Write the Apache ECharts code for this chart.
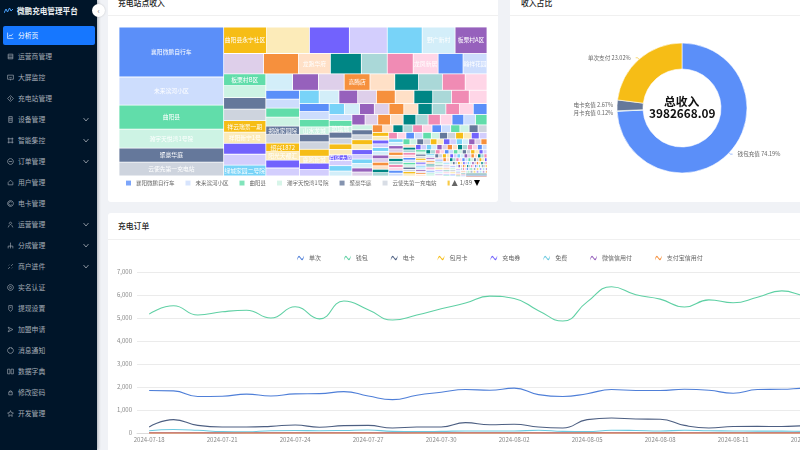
<!DOCTYPE html>
<html>
<head>
<meta charset="utf-8"/>
<title>微鹏充电管理平台</title>
<script src="https://cdn.jsdelivr.net/npm/echarts@6/dist/echarts.min.js"></script>
<style>
html,body{margin:0;padding:0;width:800px;height:450px;overflow:hidden;background:#f0f2f6;font-family:"Noto Sans CJK SC","Noto Sans",sans-serif;}
#side{position:absolute;left:0;top:0;width:97px;height:450px;background:#001529;box-shadow:1px 0 3px rgba(0,21,41,.3);}
#logo{position:absolute;left:17px;top:4px;font-size:7.6px;line-height:13px;font-weight:700;color:#eef2f6;white-space:nowrap;}
#logoMark{position:absolute;left:4px;top:7px;}
#fold{position:absolute;left:92px;top:4px;width:13px;height:13px;border-radius:50%;background:#fff;box-shadow:0 0 2px rgba(0,0,0,.2);color:#666;font-size:7px;line-height:13px;text-align:center;}
.menu{position:absolute;left:3px;width:92px;height:19px;line-height:19px;border-radius:2px;color:#a4acb5;font-size:6.8px;white-space:nowrap;}
.menu.on{background:#1677ff;color:#fff;}
.menu span{position:absolute;left:15px;top:0;}
.menu svg{position:absolute;left:4px;top:6px;width:7px;height:7px;fill:none;stroke:currentColor;stroke-width:1.1;}
.menu svg.arr{left:80px;top:7px;width:6px;height:5px;stroke-width:1.6;}
.card{position:absolute;background:#fff;border-radius:3px;overflow:hidden;}
.card .tt{position:absolute;left:10px;font-size:7.8px;color:#222;font-weight:500;white-space:nowrap;line-height:12px;}
.card .sep{position:absolute;left:0;right:0;height:1px;background:#f0f0f0;}
.chart{position:absolute;}
</style>
</head>
<body>
<div id="side">
    <svg id="logoMark" width="9" height="7" viewBox="0 0 9 7"><path d="M0 6L2 2 3.500 5 5.500 1 7 4 9 2" fill="none" stroke="#4aa3ff" stroke-width="1"/></svg>
    <div id="logo">微鹏充电管理平台</div>
</div>
<div id="fold">‹</div>
<div class="card" style="left:108px;top:-20px;width:390px;height:222px;">
    <div class="tt" style="top:17px;">充电站点收入</div><div class="sep" style="top:35px;"></div>
</div>
<div class="card" style="left:510px;top:-20px;width:343px;height:222px;">
    <div class="tt" style="top:17px;left:11px;">收入占比</div><div class="sep" style="top:35px;"></div>
</div>
<div class="card" style="left:108px;top:213px;width:784px;height:260px;">
    <div class="tt" style="top:7px;left:10px;">充电订单</div><div class="sep" style="top:26px;"></div>
</div>
<div class="chart" id="stationChart" style="left:108px;top:0;width:390px;height:202px;"></div>
<div class="chart" id="shareChart" style="left:510px;top:0;width:343px;height:202px;"></div>
<div class="chart" id="orderChart" style="left:108px;top:213px;width:784px;height:237px;"></div>

<script>
    var menuNames = ['分析页','运营商管理','大屏监控','充电站管理','设备管理','智能集控','订单管理','用户管理','电卡管理','运营管理','分成管理','商户进件','实名认证','提现设置','加盟申请','消息通知','数据字典','修改密码','开发管理'];
    var menuWithArrow = ['设备管理','智能集控','订单管理','运营管理','分成管理','商户进件'];
    var menuIcons = [
        'M1 1V11H11M3 8L5 5 7 7 10 3',
        'M2 2H10V10H2ZM2 5H10M2 8H10',
        'M1 2H11V9H1ZM6 9V11M4 5L6 7 8 5',
        'M6 1L11 6 6 11 1 6ZM6 4V8',
        'M3 1H9V11H3ZM3 4H9M3 7H9',
        'M3 1V11M9 1V11M1 3H11M1 9H11',
        'M6 1A5 5 0 1 1 5.900 1M3 6H9',
        'M6 2L10 6V10H2V6Z',
        'M6 1A5 5 0 1 1 5.900 1M8 4A3 3 0 1 0 8 8',
        'M6 2A2 2 0 1 1 5.900 2M2 11L4 7M10 11L8 7',
        'M6 1V5M2 11V7H10V11M6 5V11',
        'M2 10L5 7M7 5L10 2M3 4L4 3M8 9L9 8',
        'M6 1A5 5 0 1 1 5.900 1M6 4A2 2 0 1 1 5.900 4',
        'M3 1H9V8L6 11 3 8ZM5 4H7',
        'M2 2L10 6 2 10 4 6Z',
        'M6 1A5 5 0 1 1 5.900 1M4 1V3M8 1V3',
        'M1 2H5V10H1ZM7 2H11V10H7Z',
        'M3 5H9V10H3ZM4 5A2 2 0 0 1 8 5',
        'M6 1L7.500 4.500 11 5 8.500 7.500 9 11 6 9 3 11 3.500 7.500 1 5 4.500 4.500Z'
    ];

    // 充电站点收入，每个子数组是矩形树图的一条
    var stationStrips = [
        [5150,2890,2480,1960,1440,1430],
        [1118,1118,1040,988,910,858,832],
        [800,700,640,620,520,520,500,500,480],
        [492,492,480,480,472,472,451,451,451],
        [432,416,416,416,400,384,384,368,352],
        [297,297,297,297,280,280,280,280,264,264],
        [260,260,247,247,247,247,247,247,234,234],
        [232,232,218,218,218,218,203,203,188,188],
        [163,163,158,158,158,152,152,147,147,147,147],
        [132,132,132,132,132,121,121,121,121,121,110],
        [135,130,130,130,130,125,125,120,120,120,118],
        [100,100,100,100,100,100,90,90,90,82,80],
        [76,76,74,72,72,70,70,68,68,68,66,66],
        [62,62,60,60,60,60,58,58,56,56,54,54],
        [55,55,54,54,54,52,52,52,50,50,50,50],
        [48,48,46,46,44,44,44,42,42,40,40,40],
        [39,39,38,38,37,37,36,36,35,35,35,34,34],
        [33,33,32,32,31,30,30,29,29,28,28,27,27],
        [27,27,27,26,26,26,26,26,25,25,25,25,24,24],
        [23,22,21,21,20,20,19,19,18,18,17,17,16,16],
        [19,19,19,18,18,18,18,18,17,17,17,17,16,16],
        [16,16,15,15,15,14,14,14,14,13,13,12,12,12],
        [15,15,15,14,14,14,14,14,14,13,13,13,13,12,12],
        [12,12,11,11,11,10,10,10,9,9,9,8,8,8,7],
        [12,12,12,11,11,11,11,11,10,10,10,10,10,10,9],
        [9,9,8,8,8,7,7,7,7,6,6,6,5,5],
        [8,8,8,8,8,7,7,7,7,7,7,7,7,7,6,6],
        [7,7,6,6,6,5,5,5,5,5,4,4],
        [7,7,7,6,6,6,6,6,6,6,6,5,5,5,5,5],
        [5,5,5,4,4,4,4,4,3,3],
        [5,5,5,5,5,5,4,4,4,4,4,4,4,4,4,4],
        [4,4,4,4,3,3,3,3],
        [4,4,4,4,4,4,4,4,4,4,4,4,4,4],
        [3,3,3,3,3,3,3,3,3,3,3,3,3,3,3,3,3,3,3,3]
    ];
    // 只列出图上读得出的站点名，key 是排名序号
    var stationNames = {
        0:'襄阳微鹏自行车',1:'未来滨河小区',2:'曲阳县',3:'瀚宇天悦湾1号院',4:'聚豪华庭',5:'云使先第一充电站',
        6:'曲阳县永宁社区',11:'野广新村',12:'板栗村A区',15:'龙跑华府',19:'龙凤新居',21:'翰祥花园',
        22:'板栗村B区',26:'祥云瑞景一期',27:'祥阳新宁1号',30:'绿城家园二号院',34:'高腾店',
        44:'郑航家园院',46:'绍兴1872',47:'阳光天都汇',63:'山水龙城',67:'鹿鸣新城',83:'拉塔城',88:'百盛大厦'
    };
    var stationPalette = ['#5B8FF9','#CDDDFD','#61DDAA','#CDF3E4','#65789B','#CED4DE','#F6BD16','#FCEBB9','#7262FD','#D3CEFD','#78D3F8','#D3EEF9','#9661BC','#DECFEA','#F6903D','#FFE0C7','#008685','#AAD8D8','#F08BB4','#FFD6E7'];

    var payNames = ['钱包充值','月卡充值','电卡充值','单次支付'];
    var payShares = [74.19,0.12,2.67,23.02];
    var payColors = ['#5B8FF9','#61DDAA','#65789B','#F6BD16'];
    var totalIncome = '3982668.09';

    var orderDates = ['2024-07-18','2024-07-19','2024-07-20','2024-07-21','2024-07-22','2024-07-23','2024-07-24','2024-07-25','2024-07-26','2024-07-27','2024-07-28','2024-07-29','2024-07-30','2024-07-31','2024-08-01','2024-08-02','2024-08-03','2024-08-04','2024-08-05','2024-08-06','2024-08-07','2024-08-08','2024-08-09','2024-08-10','2024-08-11','2024-08-12','2024-08-13','2024-08-14','2024-08-15','2024-08-16'];
    var orderSingle = [1850,1830,1590,1600,1690,1610,1700,1710,1800,1610,1450,1640,1770,1890,1860,1950,1670,1590,1710,1890,1850,1850,1900,1860,1730,1890,1900,1950,1900,1880];
    var orderWallet = [5170,5530,5130,5270,5340,5000,5490,4960,5740,5360,4910,5130,5400,5650,5950,5850,5320,4870,5700,6360,6010,5820,5480,5790,5660,5900,6180,5960,5900,5800];
    var orderCard = [260,580,330,260,260,290,350,250,320,330,220,260,260,450,360,380,260,220,580,650,610,600,330,220,280,290,280,320,300,310];
    var orderMonth = [6,5,4,6,7,5,4,6,5,3,4,6,5,4,6,5,4,3,5,6,4,5,6,4,5,5,6,4,5,5];
    var orderCoupon = [10,12,8,6,9,11,10,8,12,9,6,8,10,12,9,10,7,6,9,11,10,8,9,10,11,8,9,10,9,8];
    var orderFree = [100,150,120,60,50,100,110,100,110,130,70,60,70,90,90,90,120,70,60,120,110,90,120,100,90,80,80,70,80,90];
    var orderWechat = [2,3,1,2,2,3,2,1,2,3,2,1,2,2,3,2,1,2,3,2,2,1,2,3,2,2,1,2,2,2];
    var orderAlipay = [3,2,3,4,2,3,3,2,4,3,2,3,2,3,4,3,2,2,3,3,4,2,3,2,3,3,2,3,3,2];

    // 左侧菜单
    var side = document.getElementById('side');
    menuNames.forEach(function (name, i) {
        var item = document.createElement('div');
        item.className = i == 0 ? 'menu on' : 'menu';
        item.style.top = (25.5 + i * 21.05) + 'px';
        var html = '<svg viewBox="0 0 12 12"><path d="' + menuIcons[i] + '"/></svg><span>' + name + '</span>';
        if (menuWithArrow.indexOf(name) >= 0) {
            html += '<svg class="arr" viewBox="0 0 12 10"><path d="M1 2L6 8 11 2"/></svg>';
        }
        item.innerHTML = html;
        side.appendChild(item);
    });

    // 把每条按面积切开，得到 0~1 范围内的矩形
    function layoutStrips(strips) {
        var total = 0;
        strips.forEach(function (s) { s.forEach(function (v) { total += v; }); });
        var x0 = 0, y0 = 0, x1 = 1, y1 = 1, cells = [], index = 0;
        strips.forEach(function (strip, n) {
            var sum = 0;
            strip.forEach(function (v) { sum += v; });
            var vertical = n == 0 || (n >= 3 && n % 2 == 1);
            var share = sum / total;
            var pos;
            if (vertical) {
                var w = share / (y1 - y0);
                pos = y0;
                strip.forEach(function (v) {
                    var h = (y1 - y0) * v / sum;
                    cells.push([x0, pos, x0 + w, pos + h, index++]);
                    pos += h;
                });
                x0 += w;
            } else {
                var h2 = share / (x1 - x0);
                pos = x0;
                strip.forEach(function (v) {
                    var w2 = (x1 - x0) * v / sum;
                    cells.push([pos, y0, pos + w2, y0 + h2, index++]);
                    pos += w2;
                });
                y0 += h2;
            }
        });
        return cells;
    }

    function renderCell(params, api) {
        var a = api.coord([api.value(0), api.value(1)]);
        var b = api.coord([api.value(2), api.value(3)]);
        var idx = api.value(4);
        var out = {
            type: 'rect',
            shape: {
                x: a[0] + 0.4,
                y: a[1] + 0.4,
                width: Math.max(b[0] - a[0] - 0.8, 0.3),
                height: Math.max(b[1] - a[1] - 0.8, 0.3)
            },
            style: {fill: stationPalette[idx % stationPalette.length]}
        };
        if (stationNames[idx]) {
            out.textContent = {style: {text: stationNames[idx], fill: '#fff', font: '5.8px "Noto Sans CJK SC"'}};
            out.textConfig = {position: 'inside'};
        }
        return out;
    }

    var legendNames = Object.keys(stationNames).map(function (k) { return stationNames[k]; });
    var stationSeries = [{
        type: 'custom',
        name: '充电站点收入',
        silent: true,
        clip: false,
        renderItem: renderCell,
        data: layoutStrips(stationStrips)
    }];
    Object.keys(stationNames).forEach(function (k) {
        stationSeries.push({
            type: 'scatter',
            name: stationNames[k],
            data: [],
            itemStyle: {color: stationPalette[k % stationPalette.length]}
        });
    });

    var stationChart = echarts.init(document.getElementById('stationChart'));
    stationChart.setOption({
        animation: false,
        textStyle: {fontFamily: 'Noto Sans CJK SC'},
        grid: {left: 11, top: 27, width: 368, height: 149},
        xAxis: {type: 'value', min: 0, max: 1, show: false},
        yAxis: {type: 'value', min: 0, max: 1, inverse: true, show: false},
        legend: {
            type: 'scroll',
            data: legendNames,
            padding: 0,
            left: 18,
            top: 180,
            width: 354,
            itemWidth: 5,
            itemHeight: 5,
            itemGap: 11,
            icon: 'rect',
            textStyle: {fontSize: 5.5, color: '#666'},
            pageFormatter: '{current}/89',
            pageIcons: {horizontal: ['path://M0,10L5,0L10,10Z', 'path://M0,0L10,0L5,10Z']},
            pageIconSize: 6,
            pageIconColor: '#000',
            pageIconInactiveColor: '#666',
            pageTextStyle: {fontSize: 6, color: '#666'},
            pageButtonItemGap: 1,
            pageButtonGap: 2
        },
        series: stationSeries
    });

    var shareChart = echarts.init(document.getElementById('shareChart'));
    shareChart.setOption({
        animation: false,
        textStyle: {fontFamily: 'Noto Sans CJK SC'},
        graphic: [
            {type: 'text', left: 172 - 18, top: 96, style: {text: '总收入', fill: '#111', font: '700 11.800px "Noto Sans CJK SC"'}},
            {type: 'text', left: 172 - 33, top: 108, style: {text: totalIncome, fill: '#111', font: '700 11.800px "Noto Sans CJK SC"'}}
        ],
        series: [{
            type: 'pie',
            center: [172, 108],
            radius: [39, 65],
            startAngle: 90,
            silent: true,
            itemStyle: {borderColor: '#fff', borderWidth: 0.6},
            label: {formatter: '{b} {d}%', fontSize: 5.6, color: '#666'},
            labelLine: {length: 2, length2: 2, lineStyle: {width: 0.6}},
            data: payNames.map(function (name, i) {
                return {name: name, value: payShares[i], itemStyle: {color: payColors[i]}};
            })
        }]
    });

    var waveIcon = 'path://M0,7C2,0,4,0,6,4C8,8,10,8,12,1L12,4C10,11,8,11,6,7C4,3,2,3,0,10Z';
    var orderNames = ['单次','钱包','电卡','包月卡','充电券','免费','微信信用付','支付宝信用付'];
    var orderLists = [orderSingle, orderWallet, orderCard, orderMonth, orderCoupon, orderFree, orderWechat, orderAlipay];
    var orderColors = ['#4f7fd8','#5fd0a4','#4d5f82','#F6BD16','#7262FD','#6cc9e0','#9661BC','#F6903D'];

    var orderChart = echarts.init(document.getElementById('orderChart'));
    orderChart.setOption({
        animation: false,
        textStyle: {fontFamily: 'Noto Sans CJK SC'},
        color: orderColors,
        legend: {
            data: orderNames,
            left: 'center',
            top: 37,
            itemWidth: 7,
            itemHeight: 5,
            itemGap: 23,
            icon: waveIcon,
            textStyle: {fontSize: 6, color: '#666'}
        },
        grid: {left: 29, right: 25, top: 59, bottom: 17},
        xAxis: {
            type: 'category',
            data: orderDates,
            axisLine: {lineStyle: {color: '#dcdcdc'}},
            axisTick: {alignWithLabel: true, length: 2, lineStyle: {color: '#dcdcdc'}},
            axisLabel: {interval: 2, fontSize: 6, color: '#888', margin: 4}
        },
        yAxis: {
            type: 'value',
            min: 0,
            max: 7000,
            interval: 1000,
            axisLine: {show: false},
            axisTick: {show: false},
            axisLabel: {fontSize: 6, color: '#888', margin: 5},
            splitLine: {lineStyle: {color: '#e6e6e6', width: 0.8}}
        },
        series: orderNames.map(function (name, i) {
            var width = name == '支付宝信用付' ? 1.8 : 1.1;
            var alpha = name == '支付宝信用付' ? 0.55 : 1;
            return {name: name, type: 'line', smooth: true, symbol: 'none', lineStyle: {width: width, opacity: alpha}, data: orderLists[i]};
        })
    });
</script>
</body>
</html>
